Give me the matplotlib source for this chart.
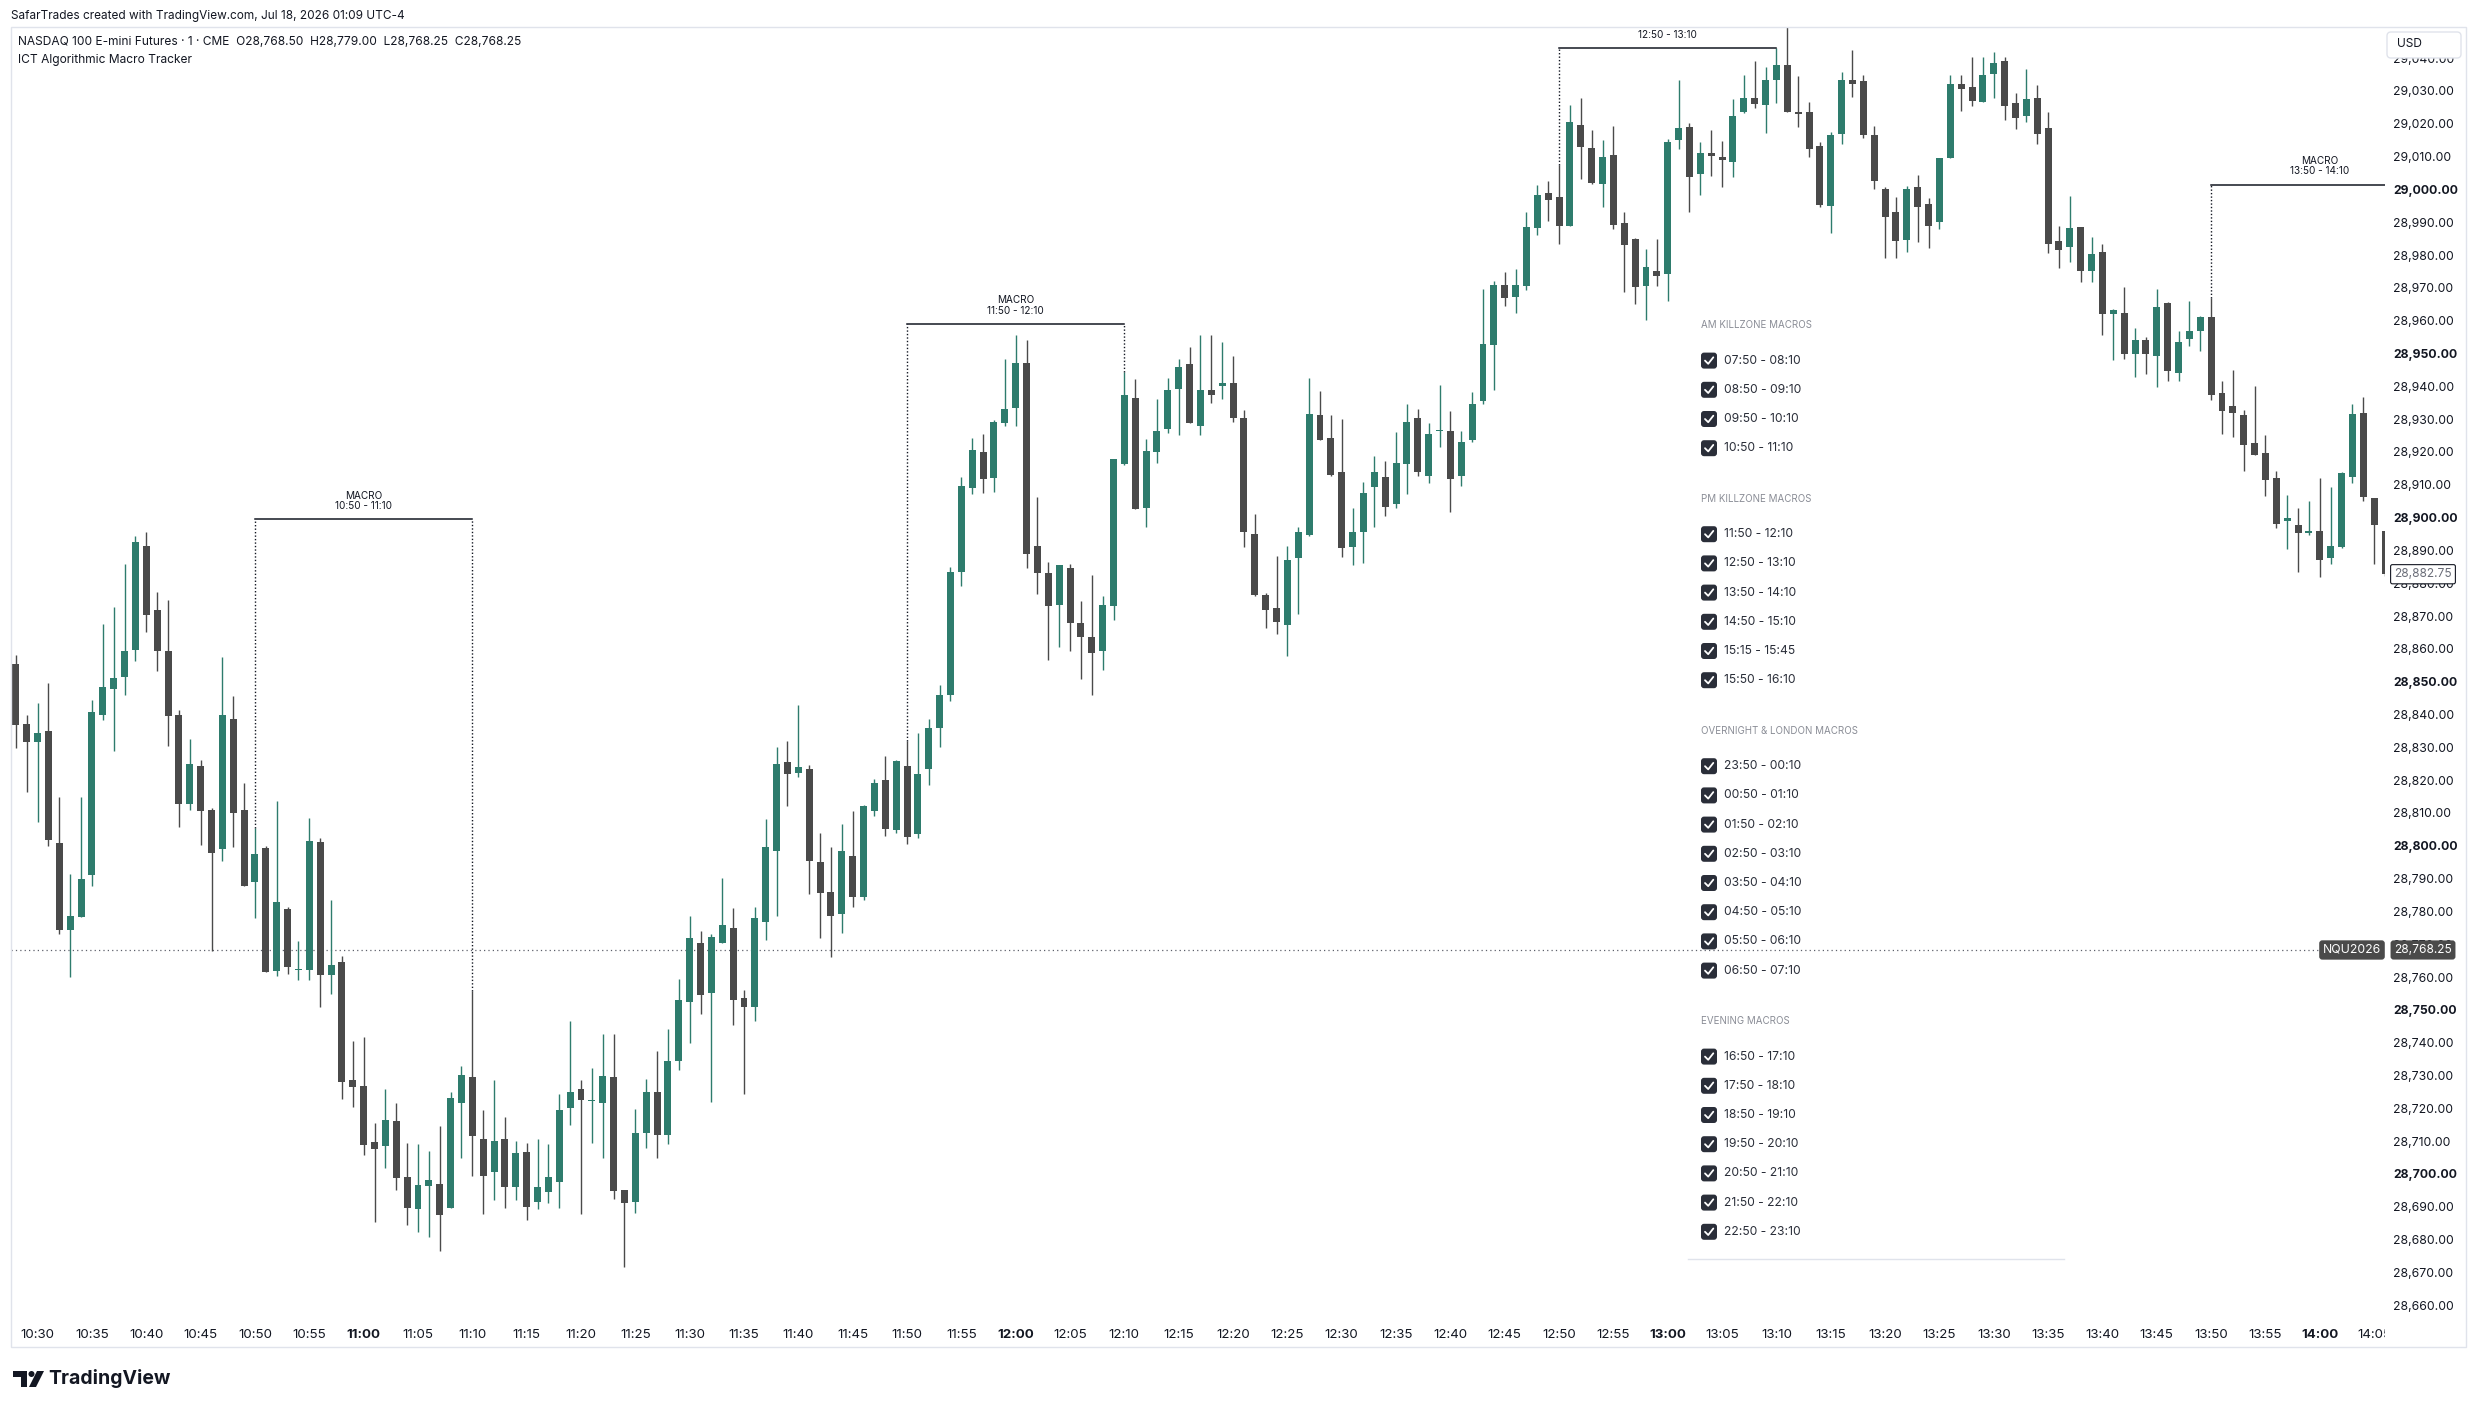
import numpy as np
import matplotlib.pyplot as plt
from matplotlib import transforms
from matplotlib.patches import Rectangle, FancyBboxPatch, Polygon, Circle

plt.rcParams['font.family'] = ['Inter', 'DejaVu Sans']

# 1-minute NQ bars, first bar is 10:28 (minutes counted from 10:30)
first_minute = -2
opens = [
    28855.25, 28837.25,
    28831.5, 28835.0, 28801.0, 28774.25, 28778.25, 28791.0, 28839.75, 28847.75, 28851.5, 28859.75,
    28891.5, 28871.75, 28859.5, 28840.0, 28812.75, 28824.25, 28811.0, 28799.0, 28838.75, 28811.0,
    28789.0, 28799.25, 28761.75, 28780.75, 28762.25, 28762.0, 28801.25, 28760.5, 28764.5, 28728.75,
    28726.75, 28709.75, 28708.5, 28716.25, 28699.0, 28689.25, 28696.25, 28697.0, 28689.5, 28721.75,
    28729.5, 28710.75, 28700.75, 28710.75, 28696.0, 28706.75, 28691.5, 28694.5, 28697.5, 28720.25,
    28725.75, 28722.25, 28721.5, 28729.5, 28695.25, 28691.5, 28712.5, 28725.0, 28712.0, 28734.5,
    28752.5, 28770.5, 28755.0, 28770.5, 28775.0, 28753.5, 28751.0, 28776.75, 28798.5, 28825.5,
    28822.25, 28823.25, 28795.0, 28786.0, 28779.25, 28796.75, 28784.25, 28810.5, 28820.0, 28804.75,
    28824.25, 28803.5, 28823.25, 28835.75, 28846.0, 28883.5, 28909.0, 28920.0, 28912.0, 28928.75,
    28933.5, 28947.0, 28891.5, 28883.0, 28873.5, 28884.75, 28868.0, 28863.5, 28859.25, 28873.0,
    28916.25, 28936.5, 28903.0, 28920.0, 28927.0, 28939.25, 28946.75, 28928.0, 28938.75, 28940.0,
    28941.0, 28930.5, 28895.0, 28876.5, 28872.5, 28867.25, 28887.75, 28894.75, 28931.25, 28924.25,
    28913.75, 28891.0, 28895.5, 28909.25, 28912.5, 28904.0, 28916.25, 28930.25, 28912.75, 28926.5,
    28926.25, 28912.75, 28923.5, 28935.5, 28952.75, 28971.0, 28967.25, 28970.5, 28988.25, 28999.0,
    28997.75, 28989.0, 29019.5, 29012.5, 29001.75, 29010.5, 28989.75, 28985.0, 28970.5, 28975.0,
    28974.25, 29015.0, 29019.0, 29004.75, 29011.25, 29009.75, 29008.5, 29023.5, 29027.75, 29025.75,
    29033.5, 29038.0, 29023.75, 29023.5, 29013.25, 28995.0, 29017.0, 29033.25, 29033.0, 29016.5,
    29000.25, 28993.0, 28984.5, 29000.75, 28995.5, 28990.0, 29009.5, 29032.0, 29031.25, 29026.75,
    29035.25, 29039.0, 29026.25, 29022.5, 29027.75, 29018.75, 28984.25, 28982.5, 28988.5, 28975.0,
    28981.0, 28962.0, 28962.5, 28950.0, 28954.0, 28949.25, 28965.5, 28944.0, 28954.5, 28957.0,
    28961.0, 28938.0, 28934.0, 28931.25, 28922.75, 28919.75, 28912.0, 28899.0, 28897.75, 28895.25,
    28896.0, 28887.75, 28891.0, 28912.5, 28932.0, 28906.0, 28896.0,
]
highs = [
    28858.25, 28840.0,
    28843.5, 28849.75, 28815.0, 28791.5, 28814.75, 28844.5, 28867.5, 28872.75, 28886.0, 28894.25,
    28895.75, 28877.25, 28875.0, 28841.5, 28832.5, 28826.25, 28811.5, 28857.5, 28845.75, 28819.25,
    28805.5, 28800.0, 28813.75, 28781.5, 28771.0, 28808.5, 28802.5, 28783.5, 28766.5, 28740.5,
    28741.75, 28715.5, 28726.0, 28721.75, 28709.5, 28709.0, 28707.0, 28714.75, 28725.0, 28732.75,
    28755.75, 28719.5, 28728.75, 28717.5, 28710.0, 28709.5, 28710.75, 28709.25, 28724.5, 28746.75,
    28728.5, 28732.25, 28742.5, 28742.5, 28695.25, 28719.75, 28729.0, 28737.5, 28744.25, 28759.5,
    28778.5, 28774.0, 28773.25, 28790.25, 28781.0, 28756.0, 28781.25, 28808.25, 28830.25, 28832.0,
    28843.0, 28824.75, 28803.75, 28799.75, 28806.75, 28810.5, 28812.5, 28820.5, 28827.5, 28826.25,
    28832.0, 28834.5, 28838.75, 28849.0, 28885.0, 28912.5, 28924.25, 28925.5, 28929.75, 28948.25,
    28955.5, 28954.0, 28906.25, 28886.5, 28885.5, 28885.75, 28874.5, 28882.5, 28876.25, 28917.75,
    28944.25, 28942.25, 28924.0, 28936.0, 28942.5, 28948.25, 28952.0, 28955.5, 28955.5, 28953.5,
    28949.25, 28932.75, 28901.25, 28877.0, 28888.25, 28891.5, 28897.25, 28942.5, 28938.5, 28931.25,
    28930.0, 28903.0, 28910.75, 28918.75, 28917.25, 28926.0, 28934.75, 28933.25, 28928.75, 28940.5,
    28932.5, 28926.5, 28938.25, 28969.75, 28972.0, 28974.75, 28975.75, 28993.0, 29001.5, 29002.5,
    29007.5, 29025.75, 29027.75, 29018.0, 29015.0, 29019.25, 28993.25, 28985.25, 28981.75, 28984.75,
    29015.5, 29033.25, 29020.25, 29014.5, 29018.0, 29014.75, 29027.5, 29035.0, 29039.0, 29037.25,
    29043.0, 29049.5, 29034.5, 29026.5, 29014.5, 29017.5, 29035.75, 29042.5, 29034.75, 29019.25,
    29000.75, 28997.75, 29001.0, 29004.5, 28997.25, 29009.5, 29034.75, 29034.75, 29040.5, 29040.25,
    29041.75, 29040.5, 29029.5, 29036.75, 29031.75, 29023.5, 28988.75, 28998.0, 28988.5, 28985.5,
    28983.25, 28963.5, 28970.25, 28957.75, 28955.0, 28969.75, 28965.75, 28957.0, 28966.0, 28961.5,
    28967.0, 28941.5, 28945.0, 28932.75, 28940.0, 28925.25, 28914.25, 28907.0, 28903.0, 28905.0,
    28912.0, 28909.25, 28914.0, 28934.5, 28936.75, 28906.0, 28896.0,
]
lows = [
    28829.75, 28816.5,
    28807.25, 28800.0, 28773.0, 28760.0, 28778.25, 28787.75, 28838.25, 28829.0, 28846.0, 28856.25,
    28865.25, 28853.25, 28830.5, 28805.75, 28811.0, 28800.25, 28768.0, 28795.5, 28799.5, 28787.75,
    28778.0, 28761.5, 28760.25, 28761.0, 28759.0, 28759.0, 28750.75, 28754.75, 28722.75, 28720.5,
    28705.75, 28685.5, 28701.75, 28695.0, 28684.5, 28682.25, 28680.75, 28676.5, 28689.5, 28705.0,
    28699.5, 28687.75, 28692.0, 28689.75, 28692.0, 28686.0, 28689.25, 28691.25, 28689.5, 28715.0,
    28687.75, 28709.5, 28704.75, 28692.25, 28671.75, 28688.0, 28708.0, 28705.0, 28709.0, 28731.75,
    28740.0, 28748.75, 28722.0, 28770.5, 28745.5, 28724.5, 28746.75, 28771.25, 28778.5, 28812.25,
    28821.0, 28785.25, 28772.0, 28766.0, 28773.5, 28781.25, 28783.5, 28809.0, 28803.0, 28804.0,
    28800.5, 28802.5, 28818.5, 28830.0, 28844.0, 28879.25, 28907.25, 28907.5, 28907.75, 28928.0,
    28928.0, 28884.5, 28876.75, 28856.5, 28860.5, 28859.5, 28850.75, 28846.0, 28853.5, 28868.75,
    28916.0, 28902.5, 28897.0, 28916.5, 28925.75, 28925.25, 28928.75, 28925.25, 28935.0, 28936.25,
    28929.25, 28891.0, 28876.0, 28866.25, 28864.5, 28857.75, 28870.75, 28894.25, 28923.5, 28912.75,
    28888.0, 28885.5, 28886.25, 28897.25, 28900.5, 28903.0, 28907.25, 28912.75, 28910.5, 28921.5,
    28901.75, 28909.5, 28923.0, 28934.75, 28938.75, 28964.5, 28962.5, 28969.5, 28986.25, 28990.5,
    28983.25, 28989.0, 29003.25, 29001.75, 28994.75, 28988.0, 28968.75, 28965.0, 28960.25, 28970.5,
    28966.0, 29012.25, 28993.0, 28998.25, 29004.0, 29000.75, 29003.75, 29023.25, 29024.75, 29017.25,
    29026.25, 29023.5, 29019.0, 29010.0, 28994.75, 28986.75, 29014.0, 29028.25, 29015.75, 29000.0,
    28979.0, 28979.0, 28981.0, 28984.0, 28982.25, 28988.0, 29009.5, 29024.0, 29025.5, 29026.75,
    29028.0, 29021.25, 29018.5, 29020.5, 29014.0, 28980.75, 28976.0, 28978.0, 28971.75, 28971.75,
    28955.75, 28948.0, 28948.25, 28943.0, 28943.75, 28939.75, 28941.5, 28941.5, 28952.25, 28950.75,
    28935.75, 28925.5, 28924.5, 28914.25, 28919.0, 28906.5, 28896.75, 28890.5, 28883.5, 28894.75,
    28882.0, 28886.0, 28890.75, 28910.5, 28905.0, 28886.0, 28882.25,
]
closes = [
    28836.75, 28831.5,
    28834.25, 28801.75, 28774.25, 28778.5, 28790.0, 28840.75, 28848.5, 28851.25, 28859.5, 28892.5,
    28870.25, 28859.5, 28839.5, 28812.75, 28825.0, 28810.5, 28797.75, 28840.0, 28810.0, 28787.75,
    28797.5, 28761.5, 28782.75, 28763.0, 28762.5, 28801.5, 28760.5, 28763.75, 28728.0, 28726.5,
    28708.75, 28707.75, 28716.5, 28698.75, 28689.5, 28696.75, 28698.25, 28687.5, 28723.0, 28730.25,
    28711.5, 28699.25, 28710.0, 28696.0, 28706.25, 28690.0, 28696.0, 28699.0, 28719.5, 28725.0,
    28722.5, 28722.5, 28730.0, 28694.75, 28691.0, 28712.5, 28725.0, 28712.0, 28734.5, 28753.0,
    28771.75, 28754.5, 28772.25, 28776.0, 28753.0, 28751.0, 28778.0, 28799.75, 28825.0, 28821.75,
    28824.0, 28795.5, 28785.5, 28778.5, 28798.5, 28784.25, 28812.0, 28819.0, 28805.0, 28825.75,
    28802.75, 28822.0, 28836.0, 28846.0, 28883.5, 28909.5, 28920.5, 28911.75, 28929.0, 28933.25,
    28947.25, 28889.0, 28883.0, 28873.0, 28885.5, 28868.0, 28863.5, 28858.75, 28873.5, 28917.75,
    28937.5, 28902.5, 28920.25, 28926.25, 28938.75, 28945.75, 28928.75, 28938.75, 28937.5, 28941.0,
    28930.5, 28895.5, 28876.5, 28872.0, 28868.25, 28887.0, 28895.5, 28931.5, 28923.5, 28913.0,
    28890.75, 28895.5, 28907.5, 28914.0, 28903.25, 28916.5, 28929.0, 28914.0, 28925.5, 28926.75,
    28911.75, 28923.0, 28934.75, 28953.0, 28971.0, 28967.0, 28971.0, 28988.5, 28998.25, 28996.75,
    28989.0, 29020.5, 29013.0, 29002.0, 29009.75, 28989.25, 28983.0, 28970.25, 28976.25, 28973.5,
    29014.5, 29018.75, 29003.75, 29011.0, 29010.25, 29009.0, 29022.5, 29027.75, 29026.0, 29033.5,
    29038.0, 29023.5, 29023.0, 29012.25, 28995.25, 29016.5, 29033.5, 29032.25, 29016.5, 29002.5,
    28991.5, 28984.25, 29000.0, 28994.75, 28989.0, 29009.5, 29032.0, 29030.75, 29027.0, 29035.0,
    29038.5, 29025.5, 29021.75, 29027.5, 29017.0, 28983.5, 28981.5, 28988.25, 28975.0, 28980.25,
    28962.0, 28963.25, 28950.0, 28954.0, 28950.0, 28964.25, 28944.75, 28953.5, 28957.0, 28961.0,
    28937.5, 28932.5, 28932.0, 28922.25, 28919.0, 28911.5, 28898.0, 28900.0, 28895.25, 28896.0,
    28887.0, 28891.5, 28913.5, 28931.5, 28906.25, 28897.75, 28882.75,
]
assert len(opens) == len(highs) == len(lows) == len(closes) == 219

last_price = 28768.25
marker_price = 28882.75

macro_starts = ['10:50', '11:50', '12:50', '13:50']
macro_ends = ['11:10', '12:10', '13:10', '14:10']
macro_levels = [28899.5, 28959.0, 29043.0, 29001.5]

panel_sections = ['AM KILLZONE MACROS', 'PM KILLZONE MACROS',
                  'OVERNIGHT & LONDON MACROS', 'EVENING MACROS']
panel_rows = [
    ['07:50 - 08:10', '08:50 - 09:10', '09:50 - 10:10', '10:50 - 11:10'],
    ['11:50 - 12:10', '12:50 - 13:10', '13:50 - 14:10', '14:50 - 15:10',
     '15:15 - 15:45', '15:50 - 16:10'],
    ['23:50 - 00:10', '00:50 - 01:10', '01:50 - 02:10', '02:50 - 03:10',
     '03:50 - 04:10', '04:50 - 05:10', '05:50 - 06:10', '06:50 - 07:10'],
    ['16:50 - 17:10', '17:50 - 18:10', '18:50 - 19:10', '19:50 - 20:10',
     '20:50 - 21:10', '21:50 - 22:10', '22:50 - 23:10'],
]

GREEN = '#2e7c6d'
DARK = '#4a4a4a'
INK = '#131722'
W, H = 2475, 1408


def to_min(s):
    hh, mm = s.split(':')
    return int(hh) * 60 + int(mm) - 630


fig = plt.figure(figsize=(W / 100, H / 100), dpi=100)
fig.patch.set_facecolor('white')

# chart pane in pixels: x 11..2385, y 27..1320
ax = fig.add_axes([11 / W, 1 - 1320 / H, (2385 - 11) / W, (1320 - 27) / H])
ax.set_zorder(1)
ax.set_xlim(-2.45, 216.0)
ax.set_ylim(28655.5, 29049.5)
for sp in ax.spines.values():
    sp.set_visible(False)

o, h, l, c = (np.array(v) for v in (opens, highs, lows, closes))
x = np.arange(len(o)) + first_minute
col = np.where(c >= o, GREEN, DARK)
ax.vlines(x, l, h, colors=col, lw=1.0, zorder=2)
ax.bar(x, np.maximum(np.abs(c - o), 0.35), bottom=np.minimum(o, c), width=0.64,
       color=col, linewidth=0, zorder=3)

ax.axhline(last_price, color='#5d606b', lw=0.9, ls=(0, (1, 2.5)), zorder=1)

# macro brackets
for s, e, lvl in zip(macro_starts, macro_ends, macro_levels):
    xs, xe = to_min(s), to_min(e)
    ax.plot([xs, xe], [lvl, lvl], color=INK, lw=1.1, zorder=4)
    for xm in (xs, xe):
        i = xm - first_minute
        if 0 <= i < len(highs):
            ax.plot([xm, xm], [highs[i], lvl], color=INK, lw=1.0,
                    ls=(0, (1, 1.5)), zorder=4)
    ax.annotate(f'MACRO\n{s} - {e}', xy=((xs + xe) / 2, lvl), xytext=(0, 6),
                textcoords='offset points', ha='center', va='bottom',
                multialignment='center', fontsize=7.2, color=INK,
                linespacing=1.05, clip_on=True, zorder=4)

# price scale
yt = np.arange(28660, 29041, 10)
ax.set_yticks(yt, [f'{v:,.2f}' for v in yt])
ax.yaxis.tick_right()
ax.tick_params(axis='y', length=0, pad=6, labelsize=8.8, labelcolor=INK)
for v, t in zip(yt, ax.get_yticklabels()):
    if v % 50 == 0:
        t.set_fontweight('bold')

# time scale
ax.set_xticks([])
clip_rect = Rectangle((0, 0), 2385 / W, 1, transform=fig.transFigure)
for m in range(0, 216, 5):
    hh, mm = divmod(630 + m, 60)
    t = ax.text(m, -0.0118, f'{hh}:{mm:02d}', transform=ax.get_xaxis_transform(),
                ha='center', va='center', fontsize=9.6, color=INK,
                fontweight='bold' if mm == 0 else 'normal')
    t.set_clip_on(True)
    t.set_clip_path(clip_rect)

# price tags on the scale
tag_tr = transforms.blended_transform_factory(fig.transFigure, ax.transData)
fig.text(2352 / W, last_price, 'NQU2026', transform=tag_tr, ha='center', va='center',
         fontsize=8.8, color='white',
         bbox=dict(boxstyle='round,pad=0.3,rounding_size=0.25', fc=DARK, ec='none'))
fig.text(2423 / W, last_price, f'{last_price:,.2f}', transform=tag_tr, ha='center',
         va='center', fontsize=8.6, color='white',
         bbox=dict(boxstyle='round,pad=0.3,rounding_size=0.25', fc=DARK, ec='none'))
fig.text(2423 / W, marker_price, f'{marker_price:,.2f}', transform=tag_tr, ha='center',
         va='center', fontsize=8.6, color='#6a6d78',
         bbox=dict(boxstyle='round,pad=0.3,rounding_size=0.15', fc='white', ec=INK, lw=0.8))

# overlay in pixel coordinates for frame, header, panel, footer
ov = fig.add_axes([0, 0, 1, 1])
ov.set_zorder(2)
ov.set_xlim(0, W)
ov.set_ylim(H, 0)
ov.axis('off')
ov.patch.set_alpha(0)

ov.add_patch(Rectangle((11, 27), 2466 - 11, 1347 - 27, fill=False, ec='#e0e3eb', lw=1))
ov.add_patch(FancyBboxPatch((2387, 32), 74, 26, boxstyle='round,pad=0,rounding_size=4',
                            fc='white', ec='#e0e3eb', lw=1))
ov.text(2397, 44, 'USD', va='center', fontsize=8.6, color=INK)

ov.text(11, 16, 'SafarTrades created with TradingView.com, Jul 18, 2026 01:09 UTC-4',
        va='center', fontsize=8.5, color=INK)
ov.text(18, 42, 'NASDAQ 100 E-mini Futures \u00b7 1 \u00b7 CME  O28,768.50  H28,779.00  '
        'L28,768.25  C28,768.25', va='center', fontsize=8.6, color=INK)
ov.text(18, 60, 'ICT Algorithmic Macro Tracker', va='center', fontsize=8.6, color=INK)

# macro list panel
ov.plot([1688, 2064], [1259, 1259], color='#e0e3eb', lw=1)
y = 325.2
for sec, rows in zip(panel_sections, panel_rows):
    ov.text(1701, y, sec, va='center', fontsize=7.0, color='#8a8d96')
    y += 35.4
    for r in rows:
        ov.add_patch(FancyBboxPatch((1701, y - 8), 16, 16,
                                    boxstyle='round,pad=0,rounding_size=3',
                                    fc='#2a2e39', ec='none'))
        ov.plot([1705, 1708.2, 1713.3], [y, y + 3.2, y - 3.3], color='white',
                lw=1.3, solid_capstyle='round', solid_joinstyle='round')
        ov.text(1724, y, r, va='center', fontsize=8.7, color='#2a2e39')
        y += 29.2
    y += 50.6 - 29.2

# footer logo
ov.add_patch(Polygon([(13, 1371), (27, 1371), (27, 1387), (21, 1387), (21, 1377), (13, 1377)],
                     closed=True, fc=INK, ec='none'))
ov.add_patch(Circle((31.5, 1374), 3.0, fc=INK, ec='none'))
ov.add_patch(Polygon([(37, 1371), (44, 1371), (36, 1387), (29, 1387)], closed=True,
                     fc=INK, ec='none'))
ov.text(48, 1379, 'TradingView', va='center', fontsize=14, fontweight='bold', color=INK)

fig.savefig('out.png', dpi=100, facecolor='white')
